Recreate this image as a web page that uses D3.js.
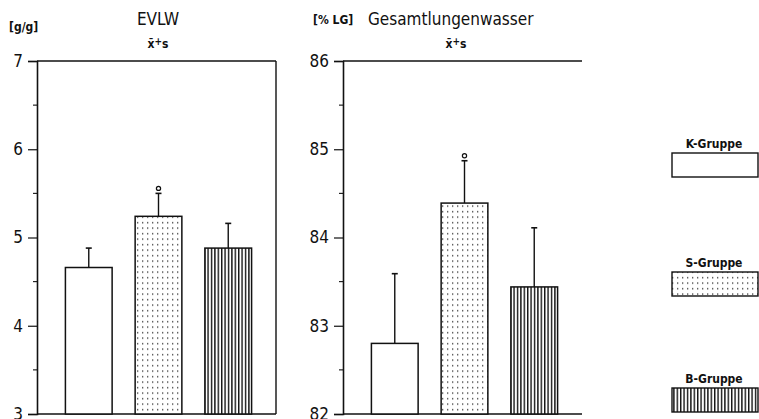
<!DOCTYPE html>
<html>
<head>
<meta charset="utf-8">
<script src="https://cdn.jsdelivr.net/npm/d3@7/dist/d3.min.js"></script>
<style>
  html, body { margin: 0; padding: 0; background: #fff; }
  svg { display: block; }
  text { font-family: "DejaVu Sans Condensed", "DejaVu Sans", sans-serif; font-stretch: condensed; fill: #111; }
</style>
</head>
<body>
<svg id="chart" width="759" height="419"></svg>
<script>
// Groups and their fill patterns
const groups = ["K-Gruppe", "S-Gruppe", "B-Gruppe"];
const patterns = ["none", "dots", "stripes"];

// EVLW [g/g]: mean and mean + s
const evlwMean = [4.66, 5.24, 4.88];
const evlwUpper = [4.88, 5.50, 5.16];
const evlwMarked = [false, true, false];
const evlwTicks = [3, 4, 5, 6, 7];

// Gesamtlungenwasser [% LG]: mean and mean + s
const glwMean = [82.80, 84.39, 83.44];
const glwUpper = [83.59, 84.87, 84.11];
const glwMarked = [false, true, false];
const glwTicks = [82, 83, 84, 85, 86];

const svg = d3.select("#chart");
const ink = "#111";

// pattern definitions
const defs = svg.append("defs");
const dots = defs.append("pattern").attr("id", "dots")
  .attr("patternUnits", "userSpaceOnUse").attr("width", 5).attr("height", 5.5);
dots.append("rect").attr("width", 5).attr("height", 5.5).attr("fill", "#fff");
dots.append("rect").attr("x", 2).attr("y", 2).attr("width", 1.3).attr("height", 1.3).attr("fill", "#333");

const stripes = defs.append("pattern").attr("id", "stripes")
  .attr("patternUnits", "userSpaceOnUse").attr("width", 3.4).attr("height", 10);
stripes.append("rect").attr("width", 3.4).attr("height", 10).attr("fill", "#fff");
stripes.append("rect").attr("x", 0).attr("y", 0).attr("width", 1.4).attr("height", 10).attr("fill", ink);

function fillFor(p) { return p === "none" ? "#fff" : `url(#${p})`; }

function panel(opts) {
  const { x0, x1, yTop, yBot, domain, ticks, mean, upper, marked, unit, unitX, title, titleX, subX } = opts;
  const y = d3.scaleLinear().domain(domain).range([yBot, yTop]);
  const x = d3.scaleBand().domain(groups).range([x0 + 4, x1 - 0]).paddingInner(0.33).paddingOuter(0.35);
  const g = svg.append("g");

  // frame: top and bottom lines, left axis
  g.append("line").attr("x1", x0).attr("x2", x1).attr("y1", yTop).attr("y2", yTop)
    .attr("stroke", ink).attr("stroke-width", 1.6);
  g.append("line").attr("x1", x0).attr("x2", x1).attr("y1", yBot).attr("y2", yBot)
    .attr("stroke", ink).attr("stroke-width", 1.6);
  if (opts.rightBorder) {
    g.append("line").attr("x1", x1).attr("x2", x1).attr("y1", yTop).attr("y2", yBot)
      .attr("stroke", ink).attr("stroke-width", 1.4);
  }

  const minor = d3.range(domain[0] + 0.5, domain[1], 1);
  const axis = d3.axisLeft(y).tickValues(ticks).tickFormat(d3.format("d")).tickSize(9).tickPadding(5);
  const ax = g.append("g").attr("transform", `translate(${x0},0)`).call(axis);
  ax.select(".domain").attr("stroke", ink).attr("stroke-width", 1.6);
  ax.selectAll(".tick line").attr("stroke", ink).attr("stroke-width", 1.2);
  ax.selectAll(".tick text").style("font-size", "17px").attr("fill", ink);
  g.append("g").attr("transform", `translate(${x0},0)`)
    .selectAll("line").data(minor).join("line")
    .attr("x1", -4).attr("x2", 0).attr("y1", d => y(d)).attr("y2", d => y(d))
    .attr("stroke", ink).attr("stroke-width", 1.1);

  // error bars (mean + s)
  g.selectAll(".err").data(groups).join("line")
    .attr("x1", d => x(d) + x.bandwidth() / 2).attr("x2", d => x(d) + x.bandwidth() / 2)
    .attr("y1", (d, i) => y(mean[i])).attr("y2", (d, i) => y(upper[i]))
    .attr("stroke", ink).attr("stroke-width", 1.4);
  g.selectAll(".cap").data(groups).join("line")
    .attr("x1", d => x(d) + x.bandwidth() / 2 - 3).attr("x2", d => x(d) + x.bandwidth() / 2 + 3)
    .attr("y1", (d, i) => y(upper[i])).attr("y2", (d, i) => y(upper[i]))
    .attr("stroke", ink).attr("stroke-width", 1.6);
  g.selectAll(".mark").data(groups.filter((d, i) => marked[i])).join("circle")
    .attr("cx", d => x(d) + x.bandwidth() / 2)
    .attr("cy", d => y(upper[groups.indexOf(d)]) - 5)
    .attr("r", 2.1).attr("fill", "#fff").attr("stroke", ink).attr("stroke-width", 1.2);

  // bars
  g.selectAll(".bar").data(groups).join("rect")
    .attr("x", d => x(d)).attr("width", x.bandwidth())
    .attr("y", (d, i) => y(mean[i])).attr("height", (d, i) => yBot - y(mean[i]))
    .attr("fill", (d, i) => fillFor(patterns[i]))
    .attr("stroke", ink).attr("stroke-width", 1.5);

  // labels
  svg.append("text").attr("x", unitX).attr("y", opts.unitY).text(unit)
    .style("font-size", "12px").style("font-weight", "bold");
  svg.append("text").attr("x", titleX).attr("y", 25).attr("text-anchor", opts.titleAnchor || "middle")
    .text(title).style("font-size", "17px");
  const s = svg.append("text").attr("x", subX).attr("y", 48).attr("text-anchor", "middle")
    .style("font-size", "12px").style("font-weight", "bold");
  s.append("tspan").text("x\u0304");
  s.append("tspan").attr("dy", -3).style("font-size", "10px").text("+");
  s.append("tspan").attr("dy", 3).text("s");
}

panel({ x0: 37, x1: 276, yTop: 61, yBot: 414, domain: [3, 7], ticks: evlwTicks,
  mean: evlwMean, upper: evlwUpper, marked: evlwMarked, rightBorder: true,
  unit: "[g/g]", unitX: 9, unitY: 31, title: "EVLW", titleX: 158, subX: 158 });

panel({ x0: 343, x1: 582, yTop: 61, yBot: 414, domain: [82, 86], ticks: glwTicks,
  mean: glwMean, upper: glwUpper, marked: glwMarked, rightBorder: false,
  unit: "[% LG]", unitX: 313, unitY: 24, title: "Gesamtlungenwasser", titleX: 368, titleAnchor: "start", subX: 456 });

// legend
const legendTop = [153, 272, 388];
const lg = svg.append("g");
groups.forEach((name, i) => {
  lg.append("rect").attr("x", 672).attr("y", legendTop[i]).attr("width", 86).attr("height", 24)
    .attr("fill", fillFor(patterns[i])).attr("stroke", ink).attr("stroke-width", 1.4);
  lg.append("text").attr("x", 714).attr("y", legendTop[i] - 5).attr("text-anchor", "middle")
    .style("font-size", "12px").style("font-weight", "bold").text(name);
});
</script>
</body>
</html>
